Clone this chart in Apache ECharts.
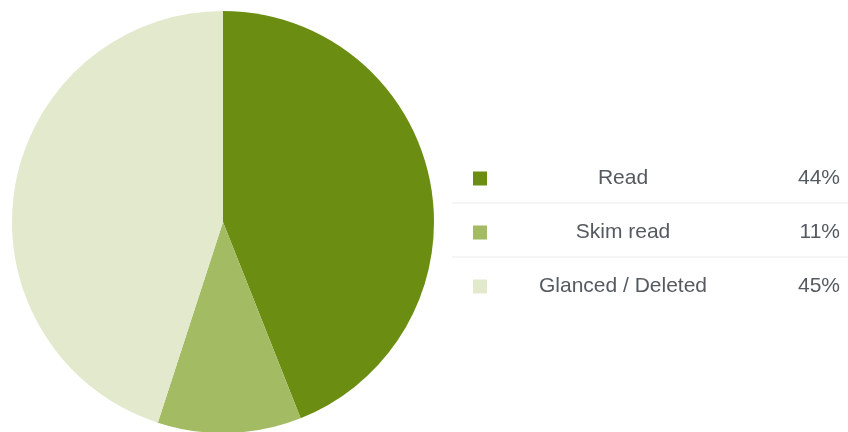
<!DOCTYPE html>
<html>
<head>
<meta charset="utf-8">
<script src="https://cdn.jsdelivr.net/npm/echarts@6/dist/echarts.min.js"></script>
<style>html,body{margin:0;padding:0;background:#fff;}#c{width:848px;height:432px;}</style>
</head>
<body>
<div id="c"></div>
<script>
const categories = ['Read', 'Skim read', 'Glanced / Deleted'];
const values = [44, 11, 45];
const colors = ['#6b8e12', '#a3bb63', '#e2e9cd'];

const chart = echarts.init(document.getElementById('c'));
const data = categories.map((n, i) => ({ name: n, value: values[i], itemStyle: { color: colors[i] } }));
const valueOf = {};
categories.forEach((n, i) => valueOf[n] = values[i]);

chart.setOption({
  animation: false,
  backgroundColor: '#ffffff',
  legend: {
    orient: 'vertical',
    left: 468,
    top: 163,
    itemWidth: 14,
    itemHeight: 14,
    itemGap: 33,
    icon: 'rect',
    selectedMode: false,
    data: categories,
    formatter: function (name) {
      return '{n|' + name + '}{v|' + valueOf[name] + '%}';
    },
    textStyle: {
      rich: {
        n: { width: 262, align: 'center', fontSize: 21, fontFamily: 'Liberation Sans, Arial, sans-serif', color: '#555a60', lineHeight: 21 },
        v: { width: 86, align: 'right', fontSize: 21, fontFamily: 'Liberation Sans, Arial, sans-serif', color: '#555a60', lineHeight: 21 }
      }
    }
  },
  graphic: [
    { type: 'line', shape: { x1: 452, y1: 203, x2: 848, y2: 203 }, style: { stroke: '#ebebeb', lineWidth: 1 } },
    { type: 'line', shape: { x1: 452, y1: 257, x2: 848, y2: 257 }, style: { stroke: '#ebebeb', lineWidth: 1 } }
  ],
  series: [{
    type: 'pie',
    center: [223, 222],
    radius: 211,
    startAngle: 90,
    clockwise: true,
    label: { show: false },
    labelLine: { show: false },
    emphasis: { disabled: true },
    itemStyle: { borderWidth: 0 },
    data: data
  }]
});
</script>
</body>
</html>
